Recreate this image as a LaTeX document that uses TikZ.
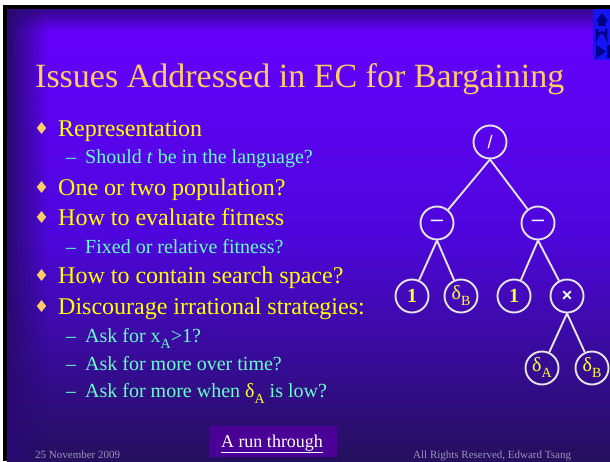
\documentclass[tikz,border=0pt]{standalone}
\usepackage{fontspec}
\setmainfont{Liberation Serif}
\newfontfamily\arialfont{Liberation Sans}
\usetikzlibrary{fadings,shapes.geometric}
\definecolor{bgtop}{HTML}{6600FF}
\definecolor{bgmid}{HTML}{4E06DC}
\definecolor{bgbot}{HTML}{24105E}
\definecolor{bgedge}{HTML}{2A0A72}
\definecolor{titlecol}{HTML}{FFCC66}
\definecolor{bultext}{HTML}{FFFF00}
\definecolor{bulmark}{HTML}{FFCC66}
\definecolor{subtext}{HTML}{66FFCC}
\definecolor{treeline}{HTML}{E6E6E6}
\definecolor{leafcol}{HTML}{FFFF33}
\definecolor{footcol}{HTML}{9C90B8}
\definecolor{linkbox}{HTML}{4A0096}
\definecolor{navblue}{HTML}{1414F5}
\definecolor{navdark}{HTML}{000088}
\tikzset{
  bul/.style={anchor=base west, inner sep=0, text=bultext, font=\fontsize{24}{28}\selectfont},
  sub/.style={anchor=base west, inner sep=0, text=subtext, font=\fontsize{20}{24}\selectfont},
  bdia/.style={shape=diamond, fill=bulmark, minimum width=9.5pt, minimum height=12pt, inner sep=0},
  tn/.style={circle, draw=treeline, line width=1.9pt, minimum size=33pt, inner sep=0},
  opl/.style={text=white, font=\arialfont\fontsize{18}{20}\selectfont},
  lfl/.style={text=leafcol, font=\fontsize{20}{22}\selectfont},
  edge/.style={draw=treeline, line width=1.9pt},
  foot/.style={anchor=base west, inner sep=0, text=footcol, font=\fontsize{11}{13}\selectfont}
}
\begin{document}
\begin{tikzpicture}[x=1pt,y=-1pt]
\useasboundingbox (0,0) rectangle (610,461);
% frame
\fill[white] (0,0) rectangle (610,461);
\fill[black] (3,5) rectangle (610,461);
% background
\shade[top color=bgtop, bottom color=bgbot, middle color=bgmid] (7,9) rectangle (610,461);
\fill[bgedge, path fading=east] (7,9) rectangle (48,461);
\fill[bgedge, opacity=0.5] (7,9) rectangle (14,461);
\fill[bgedge, path fading=south, opacity=0.8] (7,9) rectangle (610,32);
% navigation box
\fill[navblue] (593,9) rectangle (610,60);
\fill[navdark] (596,21) -- (602,13) -- (608,21) -- cycle;
\fill[navdark] (598,21) rectangle (606,26);
\draw[navdark, line width=2.5pt] (597,29) -- (597,37) arc[start angle=180, end angle=360, radius=4.5] -- (606,29);
\fill[navdark] (596,45) -- (606,51.5) -- (596,58) -- cycle;
\fill[navdark] (607,45) rectangle (610,58);
% title
\node[anchor=base west, inner sep=0, text=titlecol, font=\fontsize{34}{40}\selectfont] (title) at (35,87) {Issues Addressed in EC for Bargaining};
% bullets
\node[bdia] (d1) at (41.5,128) {};
\node[bul] (b1) at (58,136) {Representation};
\node[sub] (s1d) at (66,163) {--};
\node[sub] (s1) at (85,163) {Should \textit{t} be in the language?};
\node[bdia] (d2) at (41.5,187) {};
\node[bul] (b2) at (58,195) {One or two population?};
\node[bdia] (d3) at (41.5,217) {};
\node[bul] (b3) at (58,225) {How to evaluate fitness};
\node[sub] (s3d) at (66,253) {--};
\node[sub] (s3) at (85,253) {Fixed or relative fitness?};
\node[bdia] (d4) at (41.5,275) {};
\node[bul] (b4) at (58,283) {How to contain search space?};
\node[bdia] (d5) at (41.5,306) {};
\node[bul] (b5) at (58,314) {Discourage irrational strategies:};
\node[sub] (s5d) at (66,342) {--};
\node[sub] (s5) at (85,342) {Ask for x\raisebox{-0.3em}{\fontsize{14}{16}\selectfont A}>1?};
\node[sub] (s6d) at (66,370) {--};
\node[sub] (s6) at (85,370) {Ask for more over time?};
\node[sub] (s7d) at (66,397) {--};
\node[sub] (s7) at (85,397) {Ask for more when {\color{leafcol}δ\raisebox{-0.3em}{\fontsize{14}{16}\selectfont A}} is low?};
% tree
\node[tn, opl] (root) at (490,142) {/};
\node[tn, opl, font=\arialfont\fontsize{22}{24}\selectfont] (m1) at (437,223) {–};
\node[tn, opl, font=\arialfont\fontsize{22}{24}\selectfont] (m2) at (538,223) {–};
\node[tn, lfl] (one1) at (412,296) {\textbf{1}};
\node[tn, lfl] (db1) at (461,296) {δ\raisebox{-0.3em}{\fontsize{14}{16}\selectfont B}};
\node[tn, lfl] (one2) at (514,296) {\textbf{1}};
\node[tn, opl] (times) at (567,296) {\textbf{×}};
\node[tn, lfl] (da) at (542,368) {δ\raisebox{-0.3em}{\fontsize{14}{16}\selectfont A}};
\node[tn, lfl] (db2) at (592,368) {δ\raisebox{-0.3em}{\fontsize{14}{16}\selectfont B}};
\path[edge] (root.south) -- (m1);
\path[edge] (root.south) -- (m2);
\path[edge] (m1.south) -- (one1);
\path[edge] (m1.south) -- (db1);
\path[edge] (m2.south) -- (one2);
\path[edge] (m2.south) -- (times);
\path[edge] (times.south) -- (da);
\path[edge] (times.south) -- (db2);
% footer
\node[fill=linkbox, minimum width=128pt, minimum height=31pt, inner sep=0] (link) at (273,441.5) {};
\node[anchor=base, inner sep=0, text=white, font=\fontsize{18}{20}\selectfont] (linktext) at (272,447) {\underline{A run through}};
\node[foot] (date) at (35,458) {25 November 2009};
\node[foot] (rights) at (413,458) {All Rights Reserved, Edward Tsang};
\end{tikzpicture}
\end{document}
